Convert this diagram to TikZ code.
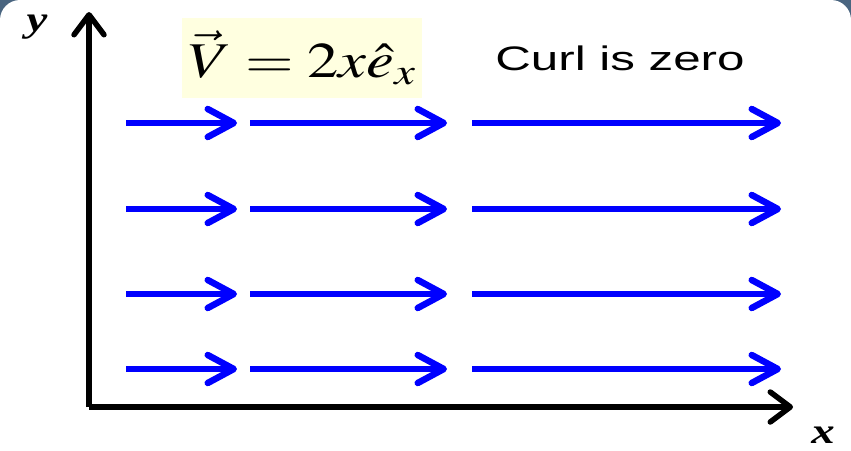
\documentclass[tikz,border=0pt]{standalone}
\usepackage{mathptmx}
\usepackage{fontspec}
\newfontfamily\arialf{Liberation Sans}
\newfontfamily\tnrf{Liberation Serif}
\usetikzlibrary{arrows.meta}
\definecolor{slidebg}{HTML}{4A6580}
\definecolor{fbox}{HTML}{FFFFE0}
\begin{document}
\begin{tikzpicture}[x=1pt,y=-1pt,
  field/.style={draw={rgb,255:red,0;green,0;blue,255}, line width=6.5pt,
    -{Straight Barb[length=26pt,width=28pt,round]}},
  axis/.style={draw=black, line width=5.5pt,
    -{Straight Barb[length=20pt,width=30pt,round]}},
  lbl/.style={inner sep=0pt, font=\tnrf\bfseries\itshape\fontsize{36}{40}\selectfont}]
\useasboundingbox (0,0) rectangle (851,450);
\clip (0,0) rectangle (851,450);
\fill[slidebg] (0,0) rectangle (851,450);
\fill[white, rounded corners=20pt] (0,0) rectangle (851,520);
% formula box
\node[fill=fbox, minimum width=240pt, minimum height=80pt, inner sep=0pt] (formula) at (302,58)
  {\scalebox{1.25}[1]{\fontsize{50}{56}\selectfont$\vec{V}=2x\hat{e}_x$}};
\node[inner sep=0pt] (curl) at (620,58)
  {\scalebox{1.45}[1]{\arialf\fontsize{34}{38}\selectfont Curl is zero}};
% axes
\coordinate (O) at (89,407);
\coordinate (ytop) at (89,12);
\coordinate (xend) at (793,407);
\draw[axis] (O) -- (ytop);
\draw[axis] (O) -- (xend);
\node[lbl] (ylbl) at (37,27) {\scalebox{1.3}[1]{y}};
\node[lbl] (xlbl) at (823,435) {\scalebox{1.3}[1]{x}};
% field arrows
\foreach \r/\yy in {1/123,2/209,3/294,4/369}{
  \coordinate (a\r s) at (126,\yy); \coordinate (a\r e) at (237,\yy);
  \coordinate (b\r s) at (250,\yy); \coordinate (b\r e) at (447,\yy);
  \coordinate (c\r s) at (472,\yy); \coordinate (c\r e) at (781,\yy);
  \draw[field] (a\r s) -- (a\r e);
  \draw[field] (b\r s) -- (b\r e);
  \draw[field] (c\r s) -- (c\r e);
}
\end{tikzpicture}
\end{document}
